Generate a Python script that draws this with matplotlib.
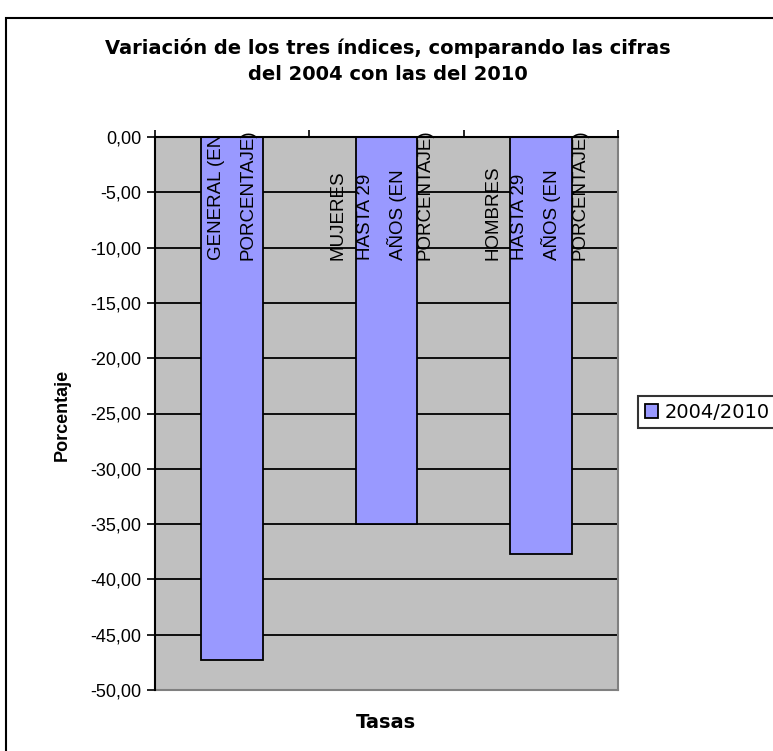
import matplotlib
matplotlib.use("Agg")
import matplotlib.pyplot as plt
from matplotlib.patches import Rectangle

categories = ["GENERAL (EN\nPORCENTAJE)",
              "MUJERES\nHASTA 29\nAÑOS (EN\nPORCENTAJE)",
              "HOMBRES\nHASTA 29\nAÑOS (EN\nPORCENTAJE)"]
values = [-47.3, -35.0, -37.7]
series_name = "2004/2010"
yticks = [0, -5, -10, -15, -20, -25, -30, -35, -40, -45, -50]
ytick_labels = ["0,00", "-5,00", "-10,00", "-15,00", "-20,00", "-25,00",
                "-30,00", "-35,00", "-40,00", "-45,00", "-50,00"]

plt.rcParams['font.family'] = ['Liberation Sans', 'DejaVu Sans']

W, H = 773, 751
fig = plt.figure(figsize=(W / 100, H / 100), dpi=100)
fig.patch.set_facecolor('white')

# outer chart border
fig.patches.append(Rectangle((6 / W, -0.1), 1.2, (H - 18) / H + 0.1,
                             transform=fig.transFigure, fill=False,
                             edgecolor='black', linewidth=1.5))

l, r, t, b = 155, 618, 137, 690
ax = fig.add_axes([l / W, 1 - b / H, (r - l) / W, (b - t) / H])
ax.set_facecolor('#C0C0C0')

x = list(range(len(values)))
ax.bar(x, values, width=0.4, color='#9999FF', edgecolor='black',
       linewidth=1.3, zorder=3, label=series_name)

ax.set_xlim(-0.5, len(values) - 0.5)
ax.set_ylim(-50, 0)
ax.set_yticks(yticks)
ax.set_yticklabels(ytick_labels, fontsize=13)
for yv in yticks[1:-1]:
    ax.axhline(yv, color='black', linewidth=1.3, zorder=1)

ax.xaxis.tick_top()
ax.set_xticks([i - 0.5 for i in range(len(values) + 1)])
ax.set_xticklabels([])
ax.tick_params(axis='x', direction='out', length=5, width=1.2, color='black')
ax.tick_params(axis='y', direction='out', length=6, width=1.2, color='black', pad=4)

for side in ['right', 'bottom']:
    ax.spines[side].set_color('#808080')
    ax.spines[side].set_linewidth(1.5)
for side in ['left', 'top']:
    ax.spines[side].set_color('black')
    ax.spines[side].set_linewidth(1.5)
    ax.spines[side].set_zorder(4)

for i, lab in enumerate(categories):
    nlines = lab.count("\n") + 1
    ax.text(i - 0.03 * (nlines > 2), 0.65, lab, rotation=90, ha='center', va='top',
            multialignment='left', fontsize=13.5,
            linespacing=2.1 if nlines == 2 else 1.78,
            zorder=5, clip_on=False)

fig.text(388 / W, 1 - 61 / H,
         "Variación de los tres índices, comparando las cifras\ndel 2004 con las del 2010",
         ha='center', va='center', fontsize=14, fontweight='bold',
         family=['DejaVu Sans'], linespacing=1.45)
fig.text(62 / W, 1 - 415 / H, "Porcentaje", rotation=90, ha='center',
         va='center', fontsize=13, fontweight='bold')
fig.text(386 / W, 1 - 722 / H, "Tasas", ha='center', va='center',
         fontsize=14, fontweight='bold', family=['DejaVu Sans'])

leg = fig.legend(loc='center left', bbox_to_anchor=(638 / W, 1 - 412 / H),
                 prop={'family': 'DejaVu Sans', 'size': 14},
                 frameon=True, fancybox=False, handlelength=0.7,
                 handleheight=0.7, handletextpad=0.3, borderpad=0.35,
                 borderaxespad=0)
leg.get_frame().set_edgecolor('black')
leg.get_frame().set_linewidth(1.5)

fig.savefig("out.png", dpi=100)
